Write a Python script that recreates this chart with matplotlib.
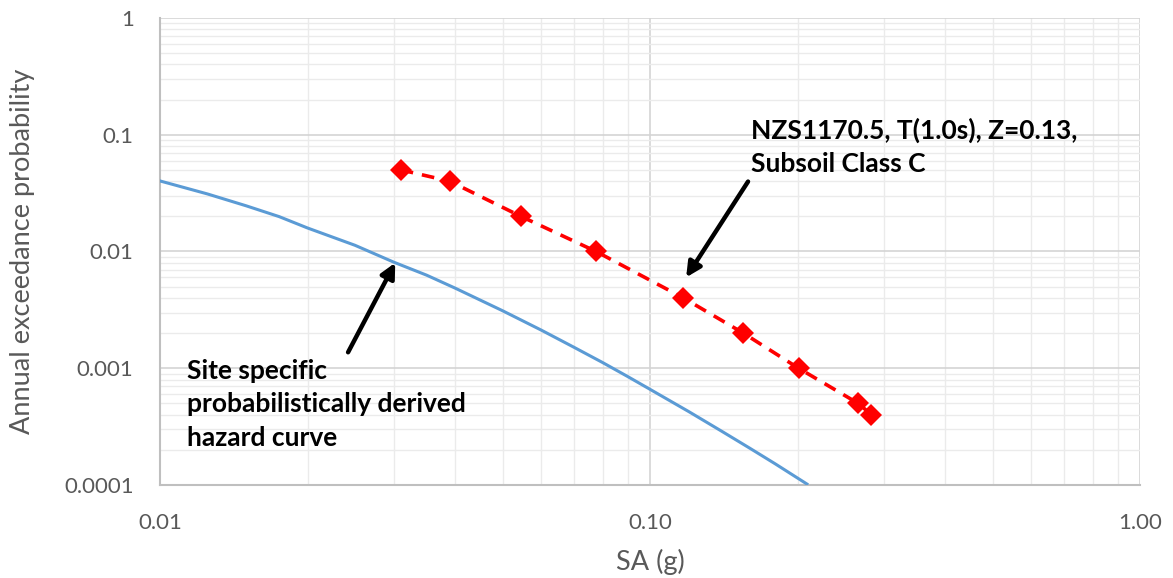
import matplotlib
matplotlib.use("Agg")

import matplotlib.pyplot as plt
import numpy as np
from matplotlib.ticker import FixedLocator, LogLocator, NullFormatter

# Site specific hazard curve (SA in g vs annual exceedance probability)
site_sa = [0.0100, 0.0125, 0.0150, 0.0175, 0.0200, 0.0250, 0.0300, 0.0350,
           0.0400, 0.0500, 0.0600, 0.0700, 0.0800, 0.0900, 0.1000, 0.1200,
           0.1400, 0.1600, 0.1800, 0.2090]
site_aep = [0.0402, 0.0311, 0.0246, 0.0199, 0.0159, 0.0113, 0.0081, 0.00627,
            0.00486, 0.00311, 0.00212, 0.00151, 0.00112, 0.00085, 0.00066, 0.000425,
            0.000289, 0.000206, 0.000152, 0.000102]

# NZS1170.5 spectral values at standard return periods
code_sa = [0.031, 0.039, 0.0545, 0.0776, 0.117, 0.155, 0.201, 0.266, 0.283]
code_aep = [0.05, 0.04, 0.02, 0.01, 0.004, 0.002, 0.001, 0.0005, 0.0004]

x_ticks = [0.01, 0.1, 1.0]
x_ticklabels = ["0.01", "0.10", "1.00"]
y_ticks = [0.0001, 0.001, 0.01, 0.1, 1]
y_ticklabels = ["0.0001", "0.001", "0.01", "0.1", "1"]

site_label = "Site specific\nprobabilistically derived\nhazard curve"
code_label = "NZS1170.5, T(1.0s), Z=0.13,\nSubsoil Class C"

text_font = ["Lato", "DejaVu Sans"]
grey_text = "#595959"

fig = plt.figure(figsize=(11.73, 5.78), dpi=100)
ax = fig.add_axes([0.1364, 0.1609, 0.9719 - 0.1364, 0.9689 - 0.1609])

ax.set_xscale("log")
ax.set_yscale("log")
ax.set_xlim(0.01, 1.0)
ax.set_ylim(0.0001, 1)

# gridlines: light minor, slightly darker major
ax.xaxis.set_minor_locator(LogLocator(base=10, subs=np.arange(2, 10)))
ax.yaxis.set_minor_locator(LogLocator(base=10, subs=np.arange(2, 10)))
ax.xaxis.set_minor_formatter(NullFormatter())
ax.yaxis.set_minor_formatter(NullFormatter())
ax.grid(True, which="minor", color="#ebebeb", lw=1.0)
ax.grid(True, which="major", color="#d4d4d4", lw=1.2)
ax.set_axisbelow(True)

ax.xaxis.set_major_locator(FixedLocator(x_ticks))
ax.set_xticklabels(x_ticklabels)
ax.yaxis.set_major_locator(FixedLocator(y_ticks))
ax.set_yticklabels(y_ticklabels)
ax.tick_params(which="both", length=0)
ax.tick_params(axis="x", pad=20)
ax.tick_params(axis="y", pad=19)
for lbl in ax.get_xticklabels() + ax.get_yticklabels():
    lbl.set_family(text_font)
    lbl.set_fontsize(16)
    lbl.set_color(grey_text)

for side in ["top", "right"]:
    ax.spines[side].set_visible(False)
for side in ["left", "bottom"]:
    ax.spines[side].set_color("#bfbfbf")
    ax.spines[side].set_linewidth(1.5)

ax.plot(site_sa, site_aep, color="#5b9bd5", lw=2.2, zorder=3)
ax.plot(code_sa, code_aep, color="#ff0000", lw=2.6, ls=(0, (3.5, 2.5)),
        marker="D", markersize=11, markeredgewidth=0, zorder=4)

ax.set_xlabel("SA (g)", family=text_font, fontsize=19.5, color=grey_text, va="center")
ax.xaxis.set_label_coords(0.5, -0.165)
ax.set_ylabel("Annual exceedance probability", family=text_font, fontsize=19.5,
              color=grey_text, va="center")
ax.yaxis.set_label_coords(-0.140, 0.5)

arrow = dict(arrowstyle="-|>", lw=3.2, color="black", mutation_scale=22,
             shrinkA=0, shrinkB=0)
ax.annotate("", xy=(0.0302, 0.0080), xytext=(0.0242, 0.00137), arrowprops=arrow)
ax.annotate("", xy=(0.1185, 0.0060), xytext=(0.1585, 0.0397), arrowprops=arrow)

ax.text(0.01136, 0.00121, site_label, family=text_font, fontweight="bold",
        fontsize=19, va="top", ha="left", linespacing=1.48)
ax.text(0.1605, 0.141, code_label, family=text_font, fontweight="bold",
        fontsize=19, va="top", ha="left", linespacing=1.48)

fig.savefig("out.png", dpi=100)
plt.close(fig)
